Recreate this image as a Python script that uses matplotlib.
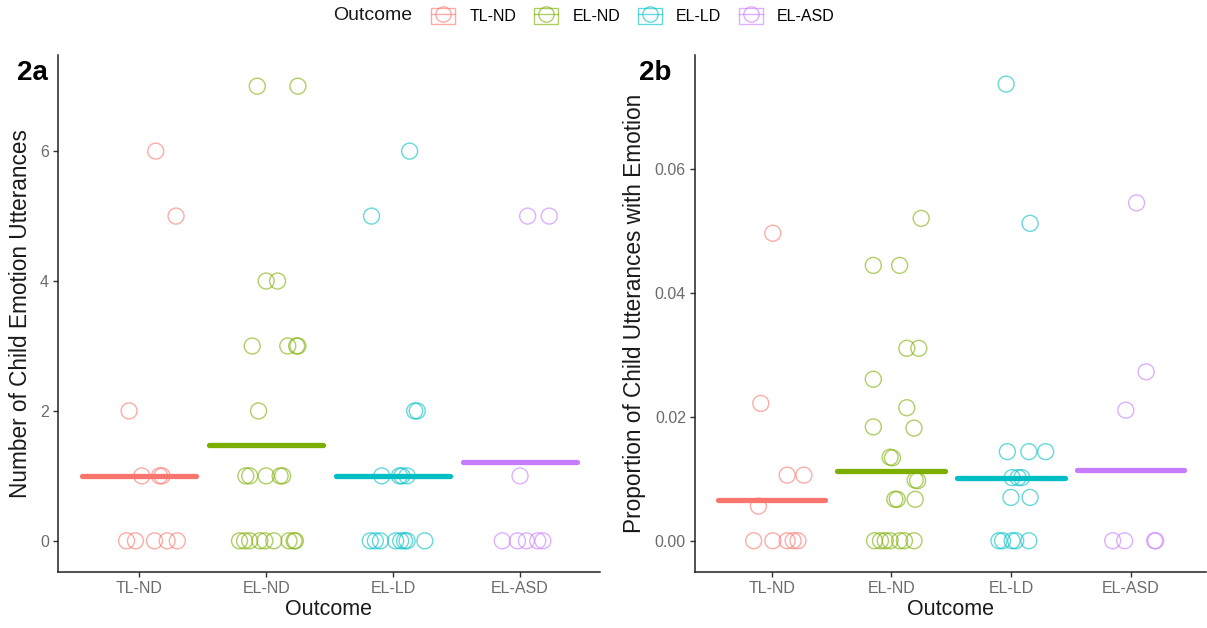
import matplotlib
matplotlib.use('Agg')
import matplotlib.pyplot as plt
from matplotlib.lines import Line2D
from matplotlib.patches import Rectangle

plt.rcParams['font.family'] = ['Liberation Sans', 'DejaVu Sans']

groups = ['TL-ND', 'EL-ND', 'EL-LD', 'EL-ASD']
colors = ['#F8766D', '#7CAE00', '#00BFC4', '#C77CFF']

# 2a: number of child emotion utterances (values + horizontal jitter)
tlnd_count = [6, 5, 2, 1, 1, 1, 0, 0, 0, 0, 0]
tlnd_count_jit = [0.13, 0.29, -0.08, 0.02, 0.16, 0.18, -0.10, -0.03, 0.12, 0.22, 0.30]
elnd_count = [7, 7, 4, 4, 3, 3, 3, 3, 2, 1, 1, 1, 1, 1, 0, 0, 0, 0, 0, 0, 0, 0, 0]
elnd_count_jit = [-0.07, 0.25, 0.0, 0.09, -0.11, 0.17, 0.24, 0.25, -0.06, -0.16, -0.13, 0.0, 0.11, 0.13,
                  -0.21, -0.17, -0.13, -0.05, -0.01, 0.06, 0.18, 0.22, 0.23]
elld_count = [6, 5, 2, 2, 1, 1, 1, 1, 0, 0, 0, 0, 0, 0, 0, 0]
elld_count_jit = [0.13, -0.17, 0.17, 0.19, -0.09, 0.05, 0.07, 0.11,
                  -0.18, -0.14, -0.10, 0.02, 0.06, 0.09, 0.11, 0.25]
elasd_count = [5, 5, 1, 0, 0, 0, 0, 0]
elasd_count_jit = [0.06, 0.23, 0.0, -0.14, -0.02, 0.05, 0.14, 0.18]
count_means = [1.0, 1.47, 1.0, 1.22]

# 2b: proportion of child utterances with emotion
tlnd_prop = [0.0497, 0.0222, 0.0106, 0.0106, 0.0056, 0, 0, 0, 0, 0]
tlnd_prop_jit = [0.01, -0.09, 0.13, 0.27, -0.11, -0.15, 0.01, 0.13, 0.18, 0.22]
elnd_prop = [0.0521, 0.0445, 0.0445, 0.0311, 0.0311, 0.0261, 0.0215, 0.0184, 0.0182, 0.0135, 0.0134,
             0.0098, 0.0097, 0.0067, 0.0067, 0.0067, 0, 0, 0, 0, 0, 0, 0]
elnd_prop_jit = [0.25, -0.15, 0.07, 0.13, 0.23, -0.15, 0.13, -0.15, 0.19, -0.01, 0.01,
                 0.20, 0.22, 0.03, 0.05, 0.20, -0.14, -0.09, -0.05, -0.01, 0.07, 0.11, 0.19]
elld_prop = [0.0738, 0.0513, 0.0144, 0.0144, 0.0144, 0.0102, 0.0102, 0.0102, 0.0070, 0.0070, 0, 0, 0, 0, 0]
elld_prop_jit = [-0.04, 0.16, -0.03, 0.15, 0.29, 0.01, 0.06, 0.09, 0.0, 0.16, -0.10, -0.07, 0.01, 0.04, 0.15]
elasd_prop = [0.0546, 0.0273, 0.0211, 0, 0, 0, 0]
elasd_prop_jit = [0.05, 0.13, -0.04, -0.15, -0.05, 0.20, 0.21]
prop_means = [0.0066, 0.0113, 0.0101, 0.0114]

count_data = [(tlnd_count, tlnd_count_jit), (elnd_count, elnd_count_jit),
              (elld_count, elld_count_jit), (elasd_count, elasd_count_jit)]
prop_data = [(tlnd_prop, tlnd_prop_jit), (elnd_prop, elnd_prop_jit),
             (elld_prop, elld_prop_jit), (elasd_prop, elasd_prop_jit)]

fig = plt.figure(figsize=(12.07, 6.28), dpi=100)
ax1 = fig.add_axes([58 / 1207, 1 - 572 / 628, 542 / 1207, 517 / 628])
ax2 = fig.add_axes([695 / 1207, 1 - 572 / 628, 511 / 1207, 517 / 628])


def draw_panel(ax, data, means, ylim, yticks, yticklabels, ylabel, tag, tag_x):
    for i, ((vals, jit), c) in enumerate(zip(data, colors)):
        xs = [i + 1 + j for j in jit]
        ax.scatter(xs, vals, s=132, facecolors='none', edgecolors=c, linewidths=1.0, alpha=0.6, zorder=3)
        ax.plot([i + 1 - 0.45, i + 1 + 0.45], [means[i], means[i]], color=c, linewidth=3.8,
                solid_capstyle='round', zorder=2)
    ax.set_xlim(0.36, 4.63)
    ax.set_ylim(*ylim)
    ax.set_xticks(range(1, 5))
    ax.set_xticklabels(groups)
    ax.set_yticks(yticks)
    ax.set_yticklabels(yticklabels)
    for side in ['top', 'right']:
        ax.spines[side].set_visible(False)
    for side in ['left', 'bottom']:
        ax.spines[side].set_linewidth(1.1)
        ax.spines[side].set_color('#222222')
    ax.tick_params(axis='both', length=3.5, width=1.0, color='#333333', labelsize=11.5,
                   labelcolor='#6b6b6b', pad=3)
    ax.set_xlabel('Outcome', fontsize=15.5, color='#1a1a1a', labelpad=2)
    ax.set_ylabel(ylabel, fontsize=16.3, color='#1a1a1a', labelpad=6)
    ax.text(tag_x, 0.99, tag, transform=ax.transAxes, fontsize=20, fontweight='bold',
            ha='left', va='top')


draw_panel(ax1, count_data, count_means, (-0.48, 7.48), [0, 2, 4, 6], ['0', '2', '4', '6'],
           'Number of Child Emotion Utterances', '2a', -0.075)
draw_panel(ax2, prop_data, prop_means, (-0.00505, 0.0785), [0, 0.02, 0.04, 0.06],
           ['0.00', '0.02', '0.04', '0.06'], 'Proportion of Child Utterances with Emotion', '2b', -0.11)

# legend
handles = []
for c in colors:
    box = Rectangle((0, 0), 1, 1, facecolor='none', edgecolor=c, linewidth=1.0, alpha=0.6)
    pt = Line2D([], [], color=c, marker='o', markerfacecolor='none', markeredgecolor=c,
                markersize=11, linestyle='-', linewidth=1.0, alpha=0.6)
    handles.append((box, pt))
fig.text(333 / 1207, 1 - 16 / 628, 'Outcome', fontsize=14, color='#1a1a1a', ha='left', va='center')
fig.legend(handles, groups, loc='center left', bbox_to_anchor=(420 / 1207, 1 - 16 / 628),
           ncol=4, frameon=False, fontsize=11.5, handlelength=1.5, handleheight=1.25,
           handletextpad=0.9, columnspacing=1.1, borderpad=0.2)

fig.savefig('out.png', dpi=100)
